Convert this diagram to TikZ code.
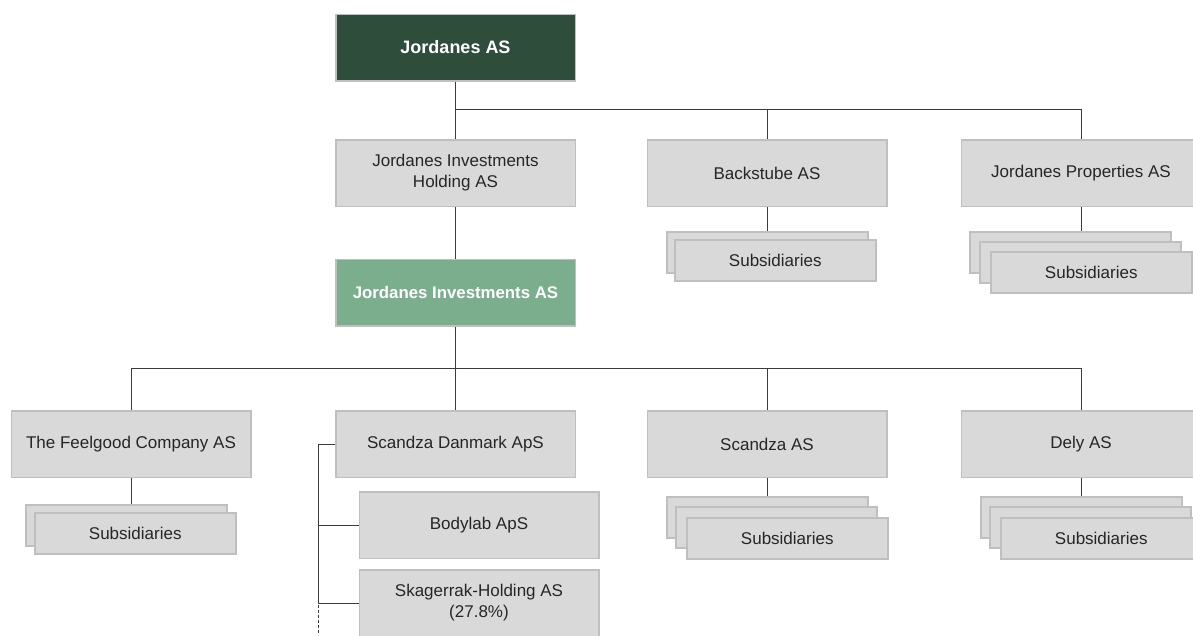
\documentclass[tikz,border=0pt]{standalone}
\usepackage{fontspec}
\setmainfont{Liberation Sans}
\usetikzlibrary{positioning}
\definecolor{topgreen}{RGB}{47,77,59}
\definecolor{midgreen}{RGB}{123,174,140}
\definecolor{boxfill}{RGB}{217,217,217}
\definecolor{boxline}{RGB}{191,191,191}
\definecolor{linkcol}{RGB}{55,62,58}
\tikzset{
  box/.style={draw=boxline,fill=boxfill,line width=1.5pt,minimum width=239.5pt,minimum height=66.5pt,
    inner sep=0pt,align=center,text=black!85,font=\fontsize{17}{21}\selectfont},
  topbox/.style={box,fill=topgreen,text=white,font=\fontsize{18}{21}\selectfont\bfseries},
  midbox/.style={box,fill=midgreen,text=white,font=\fontsize{16.8}{21}\selectfont\bfseries},
  sub/.style={draw=boxline,fill=boxfill,line width=1.5pt,minimum width=201pt,minimum height=41pt,
    inner sep=0pt,anchor=north west,text=black!85,font=\fontsize{17}{21}\selectfont},
  link/.style={draw=linkcol,line width=1pt}
}
\begin{document}
\begin{tikzpicture}[x=1pt,y=-1pt]
   \useasboundingbox[fill=white] (0,0) rectangle (1193,635);
   % top levels
   \node[topbox] (root) at (455.5,47.5) {Jordanes AS};
   \node[box] (jih) at (455.5,173) {Jordanes Investments\\Holding AS};
   \node[box] (backstube) at (767,173) {Backstube AS};
   \node[box] (props) at (1081,173) {Jordanes Properties AS};
   \node[midbox] (ji) at (455.5,292.5) {Jordanes Investments AS};
   % operating companies
   \node[box] (feelgood) at (131,444) {The Feelgood Company AS};
   \node[box] (danmark) at (455.5,444) {Scandza Danmark ApS};
   \node[box] (scandza) at (767,444) {Scandza AS};
   \node[box] (dely) at (1081,444) {Dely AS};
   \node[box] (bodylab) at (479,525) {Bodylab ApS};
   \node[box] (skag) at (479,603) {Skagerrak-Holding AS\\(27.8\%)};
   % subsidiaries stacks
   \node[sub] (bs1) at (666,231) {};
   \node[sub,xshift=8pt,yshift=-8pt] (bs2) at (bs1.north west) {Subsidiaries};
   \node[sub] (jp1) at (969,231) {};
   \node[sub,xshift=10pt,yshift=-10pt] (jp2) at (jp1.north west) {};
   \node[sub,xshift=11pt,yshift=-10pt] (jp3) at (jp2.north west) {Subsidiaries};
   \node[sub] (fg1) at (25,504) {};
   \node[sub,xshift=9pt,yshift=-8pt] (fg2) at (fg1.north west) {Subsidiaries};
   \node[sub] (sc1) at (666,496) {};
   \node[sub,xshift=9pt,yshift=-10pt] (sc2) at (sc1.north west) {};
   \node[sub,xshift=11pt,yshift=-11pt] (sc3) at (sc2.north west) {Subsidiaries};
   \node[sub] (dl1) at (980,496) {};
   \node[sub,xshift=9pt,yshift=-10pt] (dl2) at (dl1.north west) {};
   \node[sub,xshift=11pt,yshift=-11pt] (dl3) at (dl2.north west) {Subsidiaries};
   % connectors
   \coordinate (bus1) at (455.5,109);
   \coordinate (bus2) at (455.5,368);
   \coordinate (dkbus) at (318,444);
   \coordinate (dkend) at (318,600);
   \draw[link] (root) -- (jih);
   \draw[link] (bus1) -| (backstube);
   \draw[link] (bus1) -| (props);
   \draw[link] (jih) -- (ji);
   \draw[link] (ji) -- (danmark);
   \draw[link] (bus2) -| (feelgood);
   \draw[link] (bus2) -| (scandza);
   \draw[link] (bus2) -| (dely);
   \draw[link] (backstube.south) -- (backstube.south |- bs1.north);
   \draw[link] (props.south) -- (props.south |- jp1.north);
   \draw[link] (feelgood.south) -- (feelgood.south |- fg1.north);
   \draw[link] (scandza.south) -- (scandza.south |- sc1.north);
   \draw[link] (dely.south) -- (dely.south |- dl1.north);
   \draw[link] (danmark.west) -- (dkbus) -- (dkend);
   \draw[link] (dkbus |- bodylab.west) -- (bodylab.west);
   \draw[link] (dkbus |- skag.west) -- (skag.west);
   \draw[link,dash pattern=on 3pt off 2pt] (dkend) -- ++(0,35);
\end{tikzpicture}
\end{document}
